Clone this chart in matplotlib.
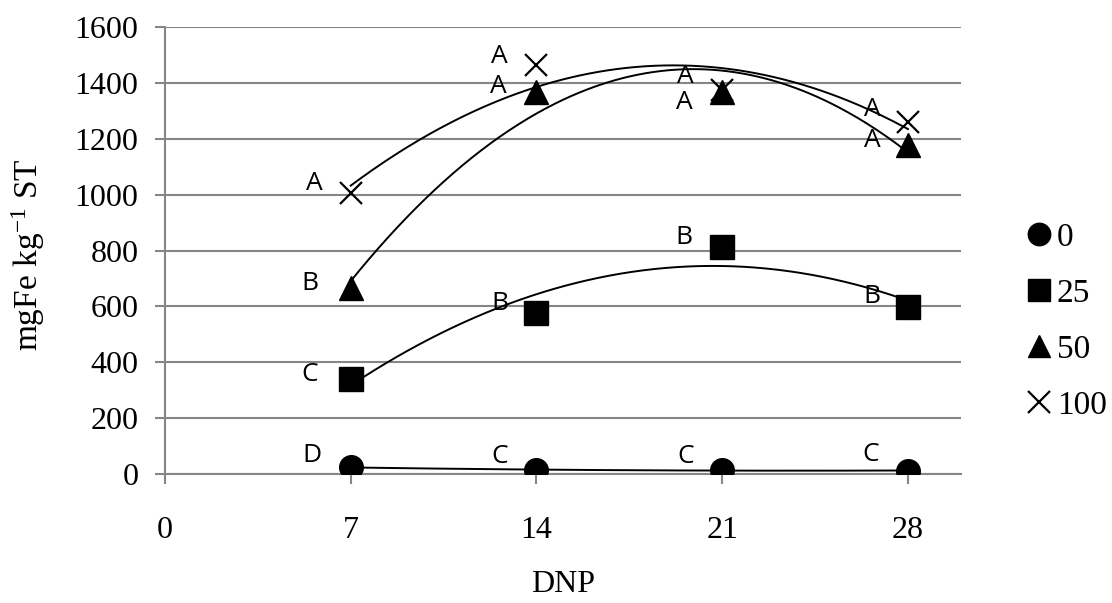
import numpy as np
import matplotlib
matplotlib.use("Agg")
import matplotlib.pyplot as plt

# ---- data ----
days = [7, 14, 21, 28]
series_names = ["0", "25", "50", "100"]
fe_0 = [24, 14, 14, 12]
fe_25 = [340, 576, 812, 598]
fe_50 = [665, 1367, 1367, 1177]
fe_100 = [1006, 1464, 1374, 1261]
letters_0 = ["D", "C", "C", "C"]
letters_25 = ["C", "B", "B", "B"]
letters_50 = ["B", "A", "A", "A"]
letters_100 = ["A", "A", "A", "A"]
x_ticks = [0, 7, 14, 21, 28]
y_ticks = [0, 200, 400, 600, 800, 1000, 1200, 1400, 1600]

# ---- style ----
plt.rcParams['font.family'] = ['Liberation Serif', 'DejaVu Serif']
plt.rcParams['mathtext.fontset'] = 'custom'
plt.rcParams['mathtext.rm'] = 'Liberation Serif'
plt.rcParams['mathtext.default'] = 'regular'

GRID = '#868686'
fs_tick = 23
fs_label = 24
fs_legend = 24
fs_letter = 19

fig = plt.figure(figsize=(11.12, 6.03), dpi=100)
ax = fig.add_axes([165/1112, 1-474/603, 796/1112, 447/603])

series = [
    (fe_0, letters_0, 'o', 17, 0),
    (fe_25, letters_25, 's', 17, 0),
    (fe_50, letters_50, '^', 17, 0),
    (fe_100, letters_100, 'x', 16, 1.6),
]
# label offsets in pixels (dx, dy up)
offsets = {
    0: [(-39, 12), (-37, 14), (-37, 14), (-37, 16)],
    1: [(-41, 5), (-37, 10), (-38, 10), (-36, 10)],
    2: [(-41, 5), (-38, 6), (-38, -10), (-36, 5)],
    3: [(-36, 9), (-37, 8), (-37, 14), (-36, 12)],
}

xs = np.array(days, dtype=float)
xfit = np.linspace(min(days), max(days), 300)
handles = []
for i, (vals, lets, mk, ms, mew) in enumerate(series):
    coef = np.polyfit(xs, np.array(vals, dtype=float), 2)
    ax.plot(xfit, np.polyval(coef, xfit), color='black', lw=1.4, zorder=3)
    kw = dict(marker=mk, markersize=ms, color='black', linestyle='none', zorder=4)
    if mk == 'x':
        kw['markeredgewidth'] = mew
    h, = ax.plot(days, vals, label=series_names[i], **kw)
    handles.append(h)
    for j, (xv, yv) in enumerate(zip(days, vals)):
        dx, dy = offsets[i][j]
        ax.annotate(lets[j], (xv, yv), xytext=(dx * 0.72, dy * 0.72),
                    textcoords='offset points', ha='center', va='center',
                    fontsize=fs_letter, family=['Open Sans', 'DejaVu Sans'],
                    color='black', zorder=5)

ax.set_xlim(0, 30)
ax.set_ylim(0, 1600)
ax.set_xticks(x_ticks)
ax.set_yticks(y_ticks)
ax.set_xticklabels([str(v) for v in x_ticks])
ax.set_yticklabels([str(v) for v in y_ticks])
ax.yaxis.grid(True, color=GRID, lw=1.5, zorder=0)
ax.set_axisbelow(True)
for s in ['top', 'right']:
    ax.spines[s].set_visible(False)
for s in ['left', 'bottom']:
    ax.spines[s].set_color(GRID)
    ax.spines[s].set_linewidth(1.5)
ax.tick_params(axis='y', direction='out', length=7, width=1.5, color=GRID,
               labelsize=fs_tick, pad=12)
ax.tick_params(axis='x', direction='out', length=7, width=1.5, color=GRID,
               labelsize=fs_tick, pad=23)

ax.set_xlabel('DNP', fontsize=fs_tick)
ax.xaxis.set_label_coords(0.5, -0.248)
ax.xaxis.label.set_va('center')
ax.set_ylabel(r'mgFe kg$^{-1}$ ST', fontsize=fs_label)
ax.yaxis.set_label_coords(-0.172, 0.49)
ax.yaxis.label.set_va('center')

leg = fig.legend(handles=handles, loc='upper left',
                 bbox_to_anchor=(1026/1112, 1-222/603), frameon=False,
                 fontsize=fs_legend, handlelength=0.8, handletextpad=0.12,
                 labelspacing=0.77, borderpad=0, borderaxespad=0,
                 markerscale=0.95)

fig.savefig('out.png', dpi=100)
